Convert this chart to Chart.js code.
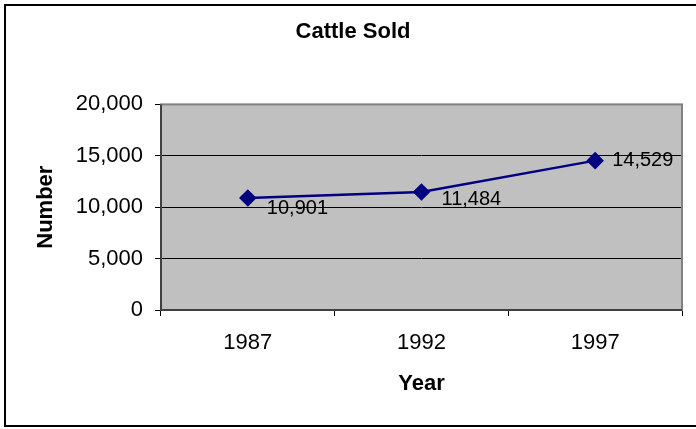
<!DOCTYPE html>
<html lang="en">
<head>
    <meta charset="UTF-8">
    <title>Cattle Sold</title>
    <script src="https://cdn.jsdelivr.net/npm/chart.js@4.4.0/dist/chart.umd.min.js"></script>
    <style>
        body {
    margin: 0;
    background-color: #ffffff;
}
canvas {
    display: block;
}
    </style>
</head>
<body>
    <canvas id="cattleChart" width="696" height="429"></canvas>

    <script>
// chart data
const years = ['1987', '1992', '1997'];
const cattleSold = [10901, 11484, 14529];
const yTicks = [0, 5000, 10000, 15000, 20000];

// grey plot background, plot frame and the outer frame
const frames = {
    id: 'frames',
    beforeDraw(chart) {
        const ctx = chart.ctx;
        const a = chart.chartArea;
        ctx.save();
        ctx.fillStyle = '#ffffff';
        ctx.fillRect(0, 0, chart.width, chart.height);
        ctx.fillStyle = '#c0c0c0';
        ctx.fillRect(a.left, a.top, a.right - a.left, a.bottom - a.top);
        ctx.restore();
    },
    afterDraw(chart) {
        const ctx = chart.ctx;
        const a = chart.chartArea;
        ctx.save();
        ctx.strokeStyle = '#808080';
        ctx.lineWidth = 2;
        ctx.strokeRect(a.left, a.top, a.right - a.left, a.bottom - a.top);
        ctx.strokeStyle = '#404040';
        ctx.beginPath();
        ctx.moveTo(a.left, a.top);
        ctx.lineTo(a.left, a.bottom);
        ctx.lineTo(a.right, a.bottom);
        ctx.stroke();
        ctx.strokeStyle = '#000000';
        ctx.strokeRect(5, 5, chart.width + 10, chart.height - 8);
        ctx.restore();
    }
};

// value labels next to the points
const pointLabels = {
    id: 'pointLabels',
    afterDatasetsDraw(chart, args, opts) {
        const ctx = chart.ctx;
        const meta = chart.getDatasetMeta(0);
        ctx.save();
        ctx.font = opts.font;
        ctx.fillStyle = '#000000';
        ctx.textBaseline = 'middle';
        ctx.textAlign = 'left';
        meta.data.forEach((pt, i) => {
            const off = opts.offsets[i];
            const txt = chart.data.datasets[0].data[i].toLocaleString('en-US');
            ctx.fillText(txt, pt.x + off[0], pt.y + off[1]);
        });
        ctx.restore();
    }
};

const ctx = document.getElementById('cattleChart').getContext('2d');
const chart = new Chart(ctx, {
    type: 'line',
    data: {
        labels: years,
        datasets: [{
            label: 'Cattle Sold',
            data: cattleSold,
            borderColor: '#000080',
            backgroundColor: '#000080',
            borderWidth: 2.5,
            pointStyle: 'rectRot',
            pointRadius: 7,
            pointHoverRadius: 7,
            tension: 0
        }]
    },
    options: {
        responsive: false,
        animation: false,
        devicePixelRatio: 1,
        layout: {
            padding: { left: 24, right: 14, top: 0, bottom: 0 }
        },
        plugins: {
            legend: { display: false },
            tooltip: { enabled: false },
            title: {
                display: true,
                text: 'Cattle Sold',
                color: '#000000',
                font: { family: 'Liberation Sans, Arial, sans-serif', size: 22, weight: 'bold' },
                padding: { top: 19, bottom: 59 }
            },
            pointLabels: {
                font: '20px "Liberation Sans", Arial, sans-serif',
                offsets: [[19, 11], [20, 8], [17, 0]]
            }
        },
        scales: {
            x: {
                offset: true,
                afterFit(scale) { scale.height = 119; },
                grid: {
                    offset: true,
                    drawOnChartArea: false,
                    drawTicks: true,
                    tickLength: 6,
                    color: '#000000'
                },
                border: { display: false },
                ticks: {
                    color: '#000000',
                    padding: 14,
                    maxRotation: 0,
                    font: { family: 'Liberation Sans, Arial, sans-serif', size: 22 }
                },
                title: {
                    display: true,
                    text: 'Year',
                    color: '#000000',
                    font: { family: 'Liberation Sans, Arial, sans-serif', size: 22, weight: 'bold' },
                    padding: { top: 0, bottom: 32 }
                }
            },
            y: {
                min: 0,
                max: 20000,
                afterFit(scale) { scale.width = 137; },
                afterBuildTicks(scale) {
                    scale.ticks = yTicks.map(v => ({ value: v }));
                },
                grid: {
                    color: '#000000',
                    lineWidth: 1,
                    tickLength: 6
                },
                border: { display: false },
                ticks: {
                    color: '#000000',
                    padding: 12,
                    font: { family: 'Liberation Sans, Arial, sans-serif', size: 22 },
                    callback: v => v.toLocaleString('en-US')
                },
                title: {
                    display: true,
                    text: 'Number',
                    color: '#000000',
                    font: { family: 'Liberation Sans, Arial, sans-serif', size: 22, weight: 'bold' },
                    padding: { top: 9, bottom: 0 }
                }
            }
        }
    },
    plugins: [frames, pointLabels]
});
    </script>
</body>
</html>
